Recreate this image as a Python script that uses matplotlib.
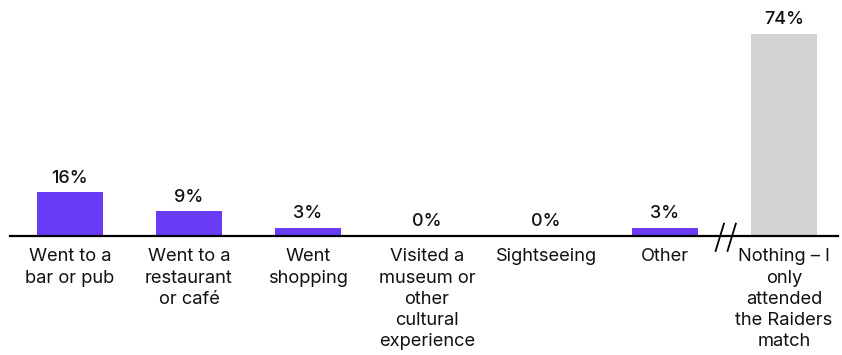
import matplotlib
matplotlib.use("Agg")
import matplotlib.pyplot as plt

categories = ["Went to a\nbar or pub", "Went to a\nrestaurant\nor café", "Went\nshopping",
              "Visited a\nmuseum or\nother\ncultural\nexperience", "Sightseeing", "Other",
              "Nothing – I\nonly\nattended\nthe Raiders\nmatch"]
values = [16, 9, 3, 0, 0, 3, 74]
labels = ["16%", "9%", "3%", "0%", "0%", "3%", "74%"]

purple = "#6A3BF5"
grey = "#D3D3D3"
colors = [purple] * 6 + [grey]

plt.rcParams["font.family"] = ["Inter", "DejaVu Sans"]

fig = plt.figure(figsize=(8.42, 3.55), dpi=100)
ax = fig.add_axes([0, 0, 1, 1])
ax.set_xlim(-0.588, 6.487)
ax.set_ylim(-43.6, 86.4)
ax.axis("off")

x = list(range(len(values)))
ax.bar(x, values, width=0.56, color=colors, zorder=2)

for xi, v, lab in zip(x, values, labels):
    ax.annotate(lab, (xi, v), xytext=(0, 4), textcoords="offset points",
                ha="center", va="bottom", fontsize=13, fontweight="medium", color="#111111")
    ax.annotate(categories[xi], (xi, 0), xytext=(0, -9), textcoords="offset points",
                ha="center", va="top", fontsize=13.2, color="#111111", linespacing=1.32)

# baseline with axis-break marks
ax.plot([-0.505, 6.45], [0, 0], color="black", lw=1.6, zorder=3)
for bx in (5.46, 5.56):
    ax.plot([bx - 0.035, bx + 0.035], [-5.5, 4.5], color="black", lw=1.3, zorder=4)

fig.savefig("out.png", dpi=100)
